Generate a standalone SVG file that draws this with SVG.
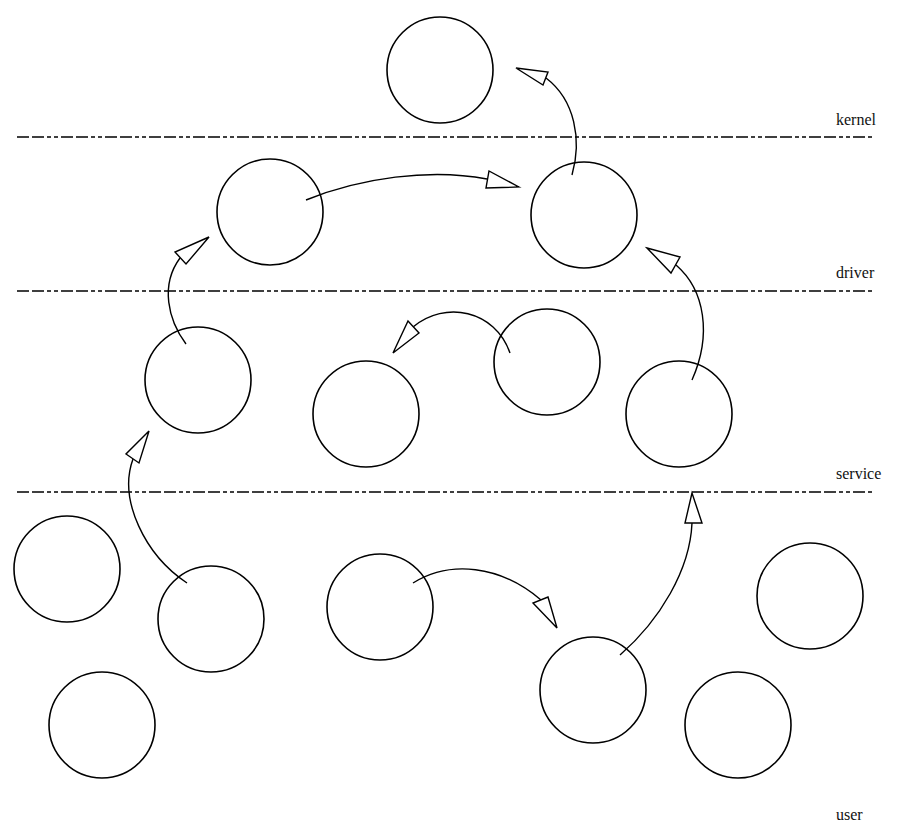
<svg xmlns="http://www.w3.org/2000/svg" width="906" height="823" viewBox="0 0 906 823">
  <style>
    .node { fill: none; stroke: #000; stroke-width: 1.6; }
    .layer { stroke: #000; stroke-width: 1.4; stroke-dasharray: 12 3 12 3 4 3 4 3; fill: none; }
    .lbl { font-family: "Liberation Serif", "Times New Roman", serif; font-size: 16px; fill: #111; }
    .wire { fill: none; stroke: #000; stroke-width: 1.4; }
    .head { fill: #fff; stroke: #000; stroke-width: 1.4; stroke-linejoin: miter; }
  </style>
  <rect width="906" height="823" fill="#fff"/>

  <!-- layer boundaries -->
  <g id="layers">
    <line class="layer" x1="17" y1="137" x2="872" y2="137"/>
    <line class="layer" x1="17" y1="291" x2="872" y2="291"/>
    <line class="layer" x1="17" y1="492" x2="872" y2="492"/>
    <text class="lbl" x="836" y="125">kernel</text>
    <text class="lbl" x="836" y="278">driver</text>
    <text class="lbl" x="836" y="479">service</text>
    <text class="lbl" x="836" y="820">user</text>
  </g>

  <!-- components -->
  <g id="n1"><circle class="node" cx="440" cy="70" r="53"/></g>
  <g id="n2"><circle class="node" cx="270" cy="212" r="53"/></g>
  <g id="n3"><circle class="node" cx="584" cy="215" r="53"/></g>
  <g id="n4"><circle class="node" cx="198" cy="380" r="53"/></g>
  <g id="n5"><circle class="node" cx="366" cy="414" r="53"/></g>
  <g id="n6"><circle class="node" cx="547" cy="362" r="53"/></g>
  <g id="n7"><circle class="node" cx="679" cy="414" r="53"/></g>
  <g id="n8"><circle class="node" cx="67" cy="569" r="53"/></g>
  <g id="n9"><circle class="node" cx="211" cy="619" r="53"/></g>
  <g id="n10"><circle class="node" cx="380" cy="607" r="53"/></g>
  <g id="n11"><circle class="node" cx="593" cy="690" r="53"/></g>
  <g id="n12"><circle class="node" cx="810" cy="596" r="53"/></g>
  <g id="n13"><circle class="node" cx="102" cy="725" r="53"/></g>
  <g id="n14"><circle class="node" cx="738" cy="725" r="53"/></g>

  <!-- calls between components -->
  <g id="connectors">
    <path class="wire" d="M572,175 C582,140 575,100 546,78"/>
    <polygon class="head" points="516,68 548,72 543,85"/>

    <path class="wire" d="M306,200 C360,178 430,168 487,179"/>
    <polygon class="head" points="519,187 489,171 486,188"/>

    <path class="wire" d="M510,353 C495,310 445,300 413,327"/>
    <polygon class="head" points="393,353 408,321 419,333"/>

    <path class="wire" d="M692,380 C712,335 705,290 676,265"/>
    <polygon class="head" points="647,248 680,257 671,273"/>

    <path class="wire" d="M186,344 C168,320 160,285 180,258"/>
    <polygon class="head" points="209,237 175,252 186,264"/>

    <path class="wire" d="M187,583 C145,555 118,500 133,459"/>
    <polygon class="head" points="149,431 126,454 139,463"/>

    <path class="wire" d="M413,583 C450,560 500,565 541,600"/>
    <polygon class="head" points="557,628 533,603 548,597"/>

    <path class="wire" d="M620,655 C660,620 690,570 692,523"/>
    <polygon class="head" points="692,493 685,523 702,523"/>
  </g>
</svg>
